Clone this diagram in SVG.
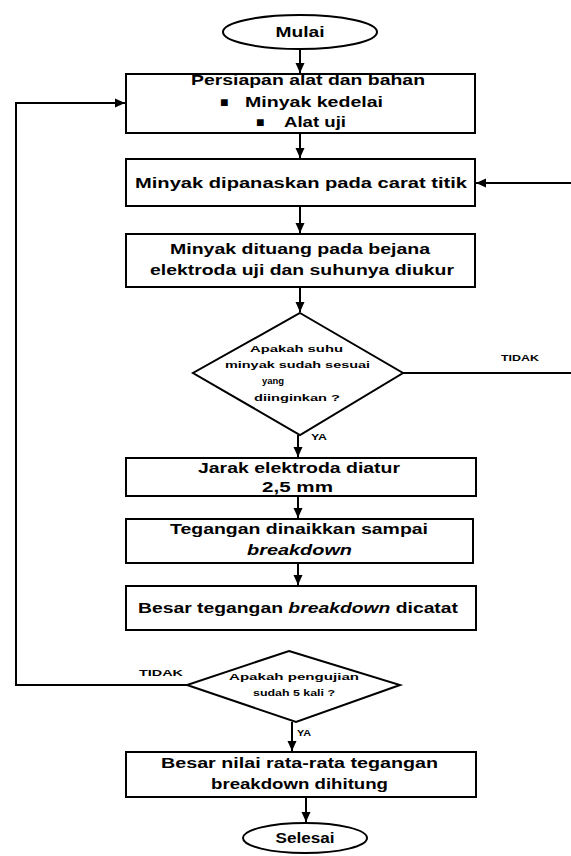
<svg xmlns="http://www.w3.org/2000/svg" width="571" height="856" viewBox="0 0 571 856">
<style>
.shape{fill:#fff;stroke:#000;stroke-width:2}
.conn{fill:none;stroke:#000;stroke-width:2}
.t{font-family:"Liberation Sans",Arial,sans-serif;font-weight:bold;font-size:14px;fill:#000;dominant-baseline:central}
.s{font-family:"Liberation Sans",Arial,sans-serif;font-weight:bold;font-size:9px;fill:#000;dominant-baseline:central}
.i{font-style:italic}
</style>
<defs>
<marker id="ah" markerUnits="userSpaceOnUse" markerWidth="11" markerHeight="10" refX="10" refY="5" orient="auto">
<path d="M0,0.5 L10,5 L0,9.5 z" fill="#000"/>
</marker>
</defs>
<rect width="571" height="856" fill="#fff"/>
<g id="connectors">
<path class="conn" d="M300,49 V73" marker-end="url(#ah)"/>
<path class="conn" d="M300,133 V158" marker-end="url(#ah)"/>
<path class="conn" d="M300,206 V233" marker-end="url(#ah)"/>
<path class="conn" d="M300,287 V312" marker-end="url(#ah)"/>
<path class="conn" d="M298,435 V457" marker-end="url(#ah)"/>
<path class="conn" d="M298,496 V518" marker-end="url(#ah)"/>
<path class="conn" d="M298,563 V585" marker-end="url(#ah)"/>
<path class="conn" d="M292,722 V751" marker-end="url(#ah)"/>
<path class="conn" d="M306,797 V822" marker-end="url(#ah)"/>
<path class="conn" d="M187,685 H16 V103 H125" marker-end="url(#ah)"/>
<path class="conn" d="M403,373 H571"/>
<path class="conn" d="M571,183 H476" marker-end="url(#ah)"/>
<text class="s" x="520" y="358" text-anchor="middle" textLength="38" lengthAdjust="spacingAndGlyphs">TIDAK</text>
<text class="s" x="311" y="437" textLength="16" lengthAdjust="spacingAndGlyphs">YA</text>
<text class="s" x="139" y="673" textLength="44" lengthAdjust="spacingAndGlyphs">TIDAK</text>
<text class="s" x="297" y="733" textLength="14" lengthAdjust="spacingAndGlyphs">YA</text>
</g>
<g id="mulai">
<ellipse class="shape" cx="300" cy="32" rx="77" ry="17"/>
<text class="t" x="300" y="32" text-anchor="middle" textLength="49" lengthAdjust="spacingAndGlyphs">Mulai</text>
</g>
<g id="persiapan">
<rect class="shape" x="126" y="74" width="349" height="59"/>
<text class="t" x="191" y="80" textLength="234" lengthAdjust="spacingAndGlyphs">Persiapan alat dan bahan</text>
<text class="t" x="220" y="102" font-family="DejaVu Sans" font-size="10">■</text>
<text class="t" x="245" y="102" textLength="138" lengthAdjust="spacingAndGlyphs">Minyak kedelai</text>
<text class="t" x="256" y="122" font-family="DejaVu Sans" font-size="10">■</text>
<text class="t" x="284" y="122" textLength="62" lengthAdjust="spacingAndGlyphs">Alat uji</text>
</g>
<g id="panaskan">
<rect class="shape" x="126" y="159" width="349" height="47"/>
<text class="t" x="135" y="183" textLength="332" lengthAdjust="spacingAndGlyphs">Minyak dipanaskan pada carat titik</text>
</g>
<g id="tuang">
<rect class="shape" x="126" y="234" width="349" height="53"/>
<text class="t" x="170" y="249" textLength="260" lengthAdjust="spacingAndGlyphs">Minyak dituang pada bejana</text>
<text class="t" x="150" y="270" textLength="304" lengthAdjust="spacingAndGlyphs">elektroda uji dan suhunya diukur</text>
</g>
<g id="cek-suhu">
<polygon class="shape" points="300,313 403,373 300,435 193,373"/>
<text class="s" x="250" y="349" textLength="93" lengthAdjust="spacingAndGlyphs">Apakah suhu</text>
<text class="s" x="225" y="365" textLength="145" lengthAdjust="spacingAndGlyphs">minyak sudah sesuai</text>
<text class="s" x="262" y="381" textLength="22" lengthAdjust="spacingAndGlyphs">yang</text>
<text class="s" x="254" y="398" textLength="86" lengthAdjust="spacingAndGlyphs">diinginkan ?</text>
</g>
<g id="jarak">
<rect class="shape" x="126" y="458" width="350" height="38"/>
<text class="t" x="198" y="468" textLength="202" lengthAdjust="spacingAndGlyphs">Jarak elektroda diatur</text>
<text class="t" x="262" y="487" textLength="71" lengthAdjust="spacingAndGlyphs">2,5 mm</text>
</g>
<g id="naikkan">
<rect class="shape" x="126" y="519" width="347" height="44"/>
<text class="t" x="170" y="529" textLength="258" lengthAdjust="spacingAndGlyphs">Tegangan dinaikkan sampai</text>
<text class="t i" x="247" y="550" textLength="105" lengthAdjust="spacingAndGlyphs">breakdown</text>
</g>
<g id="catat">
<rect class="shape" x="126" y="586" width="350" height="44"/>
<text class="t" x="138" y="608" textLength="320" lengthAdjust="spacingAndGlyphs">Besar tegangan <tspan class="i">breakdown</tspan> dicatat</text>
</g>
<g id="cek-uji">
<polygon class="shape" points="289,651 400,685 296,722 187,685"/>
<text class="s" x="229" y="677" textLength="130" lengthAdjust="spacingAndGlyphs">Apakah pengujian</text>
<text class="s" x="253" y="693" textLength="82" lengthAdjust="spacingAndGlyphs">sudah 5 kali ?</text>
</g>
<g id="hitung">
<rect class="shape" x="126" y="752" width="350" height="45"/>
<text class="t" x="161" y="763" textLength="277" lengthAdjust="spacingAndGlyphs">Besar nilai rata-rata  tegangan</text>
<text class="t" x="211" y="784" textLength="177" lengthAdjust="spacingAndGlyphs">breakdown dihitung</text>
</g>
<g id="selesai">
<ellipse class="shape" cx="305" cy="838" rx="62" ry="15"/>
<text class="t" x="305" y="838" text-anchor="middle" textLength="59" lengthAdjust="spacingAndGlyphs">Selesai</text>
</g>
</svg>
